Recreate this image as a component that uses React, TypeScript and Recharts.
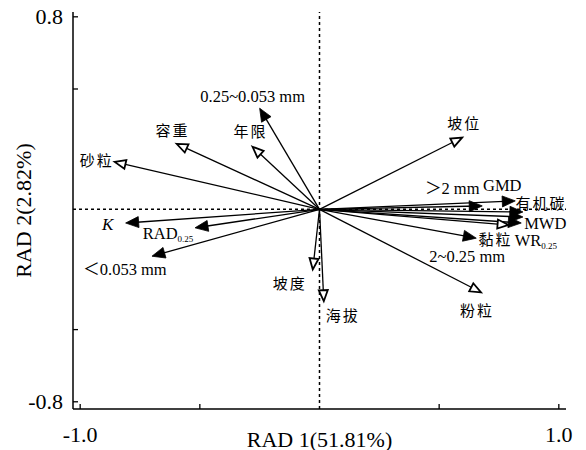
import React from "react"
import { ScatterChart, Scatter, XAxis, YAxis, ReferenceLine, ReferenceDot } from "recharts"

// soil aggregate indicators (filled heads)
const soilVars = ["0.25~0.053 mm", "K", "RAD0.25", "<0.053 mm", ">2 mm", "GMD", "有机碳", "WR0.25", "MWD", "2~0.25 mm"]
const soilRAD1 = [-0.25, -0.81, -0.52, -0.7, 0.68, 0.818, 0.85, 0.85, 0.843, 0.655]
const soilRAD2 = [0.42, -0.057, -0.077, -0.195, 0.014, 0.035, -0.011, -0.032, -0.057, -0.12]

// environmental factors (open heads)
const envVars = ["容重", "年限", "砂粒", "坡度", "海拔", "粉粒", "坡位", "黏粒"]
const envRAD1 = [-0.597, -0.28, -0.856, -0.028, 0.018, 0.675, 0.596, 0.79]
const envRAD2 = [0.272, 0.26, 0.197, -0.25, -0.382, -0.345, 0.298, -0.065]

const xTicks = [-1, -0.5, 0.5, 1]
const yTicks = [-0.8, -0.5, 0.5, 0.8]

// label offsets from arrow tip, px
const labelOffset: Record<string, [number, number]> = {
  "0.25~0.053 mm": [-7, -12],
  K: [-18, 1],
  "RAD0.25": [-27, 6],
  "<0.053 mm": [-27, 13],
  ">2 mm": [-30, -17],
  GMD: [-13, -15],
  有机碳: [18, -8],
  "WR0.25": [13, 24],
  MWD: [24, 0],
  "2~0.25 mm": [-9, 18],
  容重: [-4, -13],
  年限: [-2, -15],
  砂粒: [-18, -1],
  坡度: [-23, 15],
  海拔: [19, 15],
  粉粒: [-4, 19],
  坡位: [2, -14],
  黏粒: [-13, 15],
}

const FONT = "'Liberation Serif', 'Times New Roman', 'Noto Sans CJK SC', serif"

const arrows = [
  ...soilVars.map((name, i) => ({ name, x: soilRAD1[i], y: soilRAD2[i], filled: true })),
  ...envVars.map((name, i) => ({ name, x: envRAD1[i], y: envRAD2[i], filled: false })),
]

const arrowShape = (filled: boolean) => (props: any) => {
  const { x1, y1, x2, y2 } = props
  const dx = x2 - x1
  const dy = y2 - y1
  const len = Math.sqrt(dx * dx + dy * dy)
  const ux = dx / len
  const uy = dy / len
  const L = filled ? 13 : 11
  const W = filled ? 5.5 : 4.5
  const bx = x2 - ux * L
  const by = y2 - uy * L
  const pts = `${x2},${y2} ${bx - uy * W},${by + ux * W} ${bx + uy * W},${by - ux * W}`
  return (
    <g>
      <line x1={x1} y1={y1} x2={filled ? x2 - ux * 4 : bx} y2={filled ? y2 - uy * 4 : by} stroke="#000" strokeWidth={1.3} />
      <polygon
        points={pts}
        fill={filled ? "#000" : "#fff"}
        stroke="#000"
        strokeWidth={filled ? 0.8 : 1.8}
        strokeLinejoin="miter"
      />
    </g>
  )
}

const labelShape = (name: string) => (props: any) => {
  const [ox, oy] = labelOffset[name] || [0, 0]
  const x = props.cx + ox
  const y = props.cy + oy
  const cjk = /[\u4e00-\u9fff]/.test(name)
  const common = {
    x,
    y,
    textAnchor: "middle" as const,
    dominantBaseline: "central" as const,
    fill: "#000",
    fontFamily: FONT,
  }
  if (name === "K") {
    return <text {...common} fontSize={17} fontStyle="italic">K</text>
  }
  if (name.endsWith("0.25") && !name.includes("~")) {
    const main = name.replace("0.25", "")
    return (
      <text {...common} fontSize={16.5}>
        {main}
        <tspan fontSize={9} dy={5}>0.25</tspan>
      </text>
    )
  }
  if (cjk) {
    return (
      <text {...common} fontSize={15} letterSpacing={2}>
        {name}
      </text>
    )
  }
  const shown = name.replace("<", "＜").replace(">", "＞")
  return (
    <text {...common} fontSize={16.5}>
      {shown}
    </text>
  )
}

const XTick = (props: any) => {
  const { x, y, payload } = props
  const v = payload.value
  return (
    <g>
      <line x1={x} y1={y} x2={x} y2={y - 5} stroke="#000" strokeWidth={1.3} />
      {Math.abs(v) === 1 && (
        <text x={x} y={y + 25} textAnchor="middle" dominantBaseline="central" fontSize={22} fontFamily={FONT} fill="#000">
          {v.toFixed(1)}
        </text>
      )}
    </g>
  )
}

const YTick = (props: any) => {
  const { x, y, payload } = props
  const v = payload.value
  return (
    <g>
      <line x1={x} y1={y} x2={x + 5} y2={y} stroke="#000" strokeWidth={1.3} />
      {Math.abs(v) === 0.8 && (
        <text x={x - 10} y={y} textAnchor="end" dominantBaseline="central" fontSize={22} fontFamily={FONT} fill="#000">
          {v.toFixed(1)}
        </text>
      )}
    </g>
  )
}

export default function App() {
  return (
    <div style={{ position: "absolute", left: 0, top: 0, width: 586, height: 450, background: "#fff" }}>
      <ScatterChart width={586} height={450} margin={{ top: 12, right: 20, bottom: 0, left: 0 }}>
        <XAxis
          type="number"
          dataKey="x"
          domain={[-1.03, 1.03]}
          ticks={xTicks}
          tick={<XTick />}
          tickLine={false}
          tickSize={0}
          tickMargin={0}
          height={41}
          axisLine={{ stroke: "#000", strokeWidth: 1.5 }}
          allowDataOverflow
          label={{
            content: (p: any) => {
              const vb = p.viewBox
              return (
                <text x={vb.x + vb.width / 2} y={vb.y + 30} textAnchor="middle" dominantBaseline="central" fontSize={22} fontFamily={FONT} fill="#000">
                  RAD 1(51.81%)
                </text>
              )
            },
          }}
        />
        <YAxis
          type="number"
          dataKey="y"
          domain={[-0.83, 0.82]}
          ticks={yTicks}
          tick={<YTick />}
          tickLine={false}
          tickSize={0}
          tickMargin={0}
          width={73}
          axisLine={{ stroke: "#000", strokeWidth: 1.5 }}
          allowDataOverflow
          label={{
            content: (p: any) => {
              const vb = p.viewBox
              const cx = vb.x + 23
              const cy = vb.y + vb.height / 2
              return (
                <text x={cx} y={cy} transform={`rotate(-90 ${cx} ${cy})`} textAnchor="middle" dominantBaseline="central" fontSize={22} fontFamily={FONT} fill="#000">
                  RAD 2(2.82%)
                </text>
              )
            },
          }}
        />
        <ReferenceLine x={0} stroke="#000" strokeWidth={1.5} strokeDasharray="3 3" />
        <ReferenceLine y={0} stroke="#000" strokeWidth={1.5} strokeDasharray="3 3" />
        {arrows.map((a) => (
          <ReferenceLine
            key={"l" + a.name}
            segment={[
              { x: 0, y: 0 },
              { x: a.x, y: a.y },
            ]}
            shape={arrowShape(a.filled)}
          />
        ))}
        {arrows.map((a) => (
          <ReferenceDot key={"t" + a.name} x={a.x} y={a.y} r={1} shape={labelShape(a.name)} />
        ))}
        <Scatter data={arrows} isAnimationActive={false} shape={() => null} />
      </ScatterChart>
    </div>
  )
}
